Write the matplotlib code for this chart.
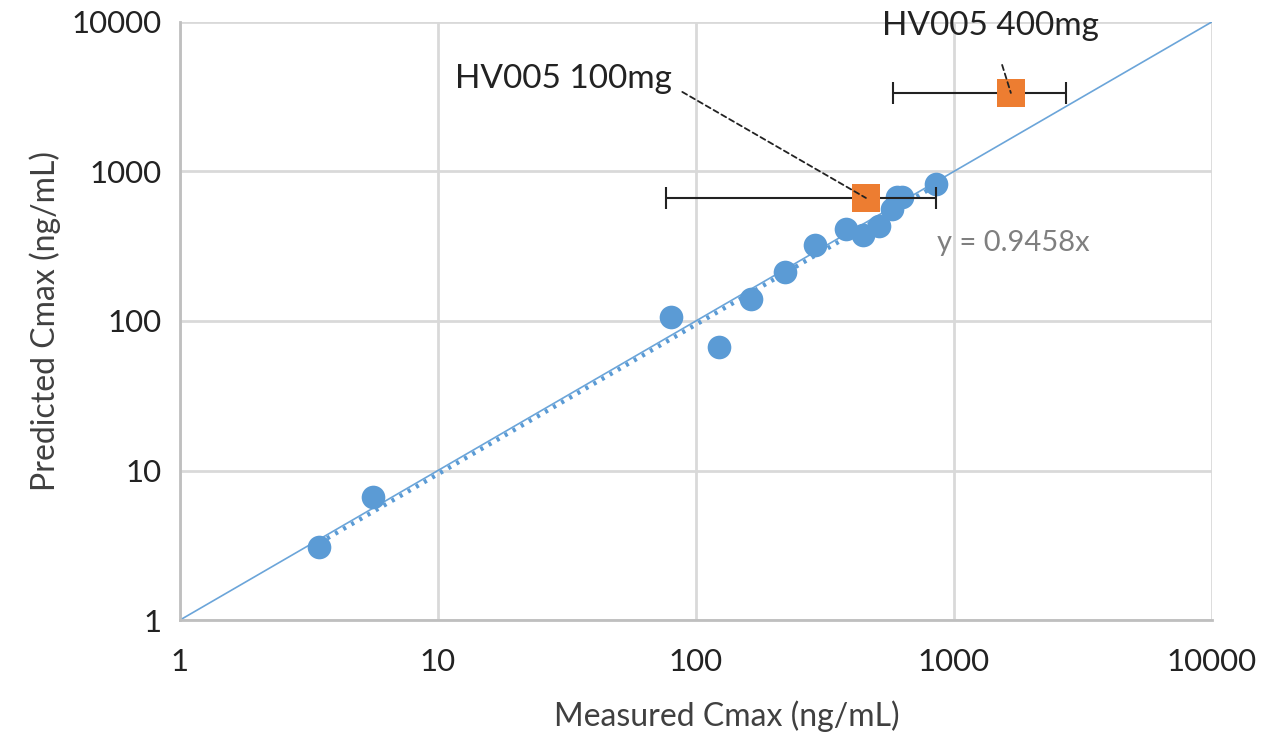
import numpy as np
import matplotlib.pyplot as plt

plt.rcParams['font.family'] = ['Lato', 'DejaVu Sans']

# observed vs predicted Cmax (ng/mL)
measured = [3.46, 5.6, 80, 123, 163, 221, 289, 381, 444, 512, 575, 601, 629, 851]
predicted = [3.08, 6.65, 106, 67, 140, 213, 322, 412, 376, 432, 561, 675, 675, 825]

# HV005 study points with ranges of measured Cmax
hv_labels = ['HV005 100mg', 'HV005 400mg']
hv_measured = [456, 1663]
hv_predicted = [665, 3350]
hv_low = [76.5, 580]
hv_high = [851, 2717]

slope = 0.9458

blue = '#5B9BD5'
orange = '#ED7D31'
grid_c = '#D9D9D9'
txt_c = '#404040'

fig = plt.figure(figsize=(12.63, 7.43), dpi=100)
ax = fig.add_axes([0.1425, 0.1655, 0.817, 0.805])
ax.set_xscale('log')
ax.set_yscale('log')
ax.set_xlim(1, 10000)
ax.set_ylim(1, 10000)

ticks = [1, 10, 100, 1000, 10000]
ax.set_xticks(ticks)
ax.set_yticks(ticks)
ax.set_xticklabels([str(t) for t in ticks])
ax.set_yticklabels([str(t) for t in ticks])
ax.minorticks_off()
ax.tick_params(length=0, labelsize=22.5, labelcolor='#222222')
ax.tick_params(axis='x', pad=20)
ax.tick_params(axis='y', pad=13)
ax.grid(True, color=grid_c, linewidth=2)
ax.set_axisbelow(True)
for s in ['top', 'right']:
    ax.spines[s].set_visible(False)
for s in ['left', 'bottom']:
    ax.spines[s].set_color('#BFBFBF')
    ax.spines[s].set_linewidth(2)

# line of unity
ax.plot([1, 10000], [1, 10000], color=blue, linewidth=1.2, alpha=0.9, zorder=2)

# trend line through origin
xt = np.array([min(measured), max(measured)])
ax.plot(xt, slope * xt, color=blue, linewidth=3.2, linestyle=(0, (0.7, 1.4)), zorder=3)

ax.scatter(measured, predicted, s=290, color=blue, zorder=4, linewidths=0)

hv_x = np.array(hv_measured)
xerr = [hv_x - np.array(hv_low), np.array(hv_high) - hv_x]
ax.errorbar(hv_measured, hv_predicted, xerr=xerr, fmt='none', ecolor='#222222',
            elinewidth=1.5, capsize=8, capthick=1.5, zorder=5)
ax.scatter(hv_measured, hv_predicted, s=430, marker='s', color=orange, zorder=6, linewidths=0)

# labels for HV005 points
ax.annotate(hv_labels[0], xy=(hv_measured[0], hv_predicted[0]), xytext=(81, 4150),
            fontsize=24, color='#222222', ha='right', va='center',
            arrowprops=dict(arrowstyle='-', color='#222222', linestyle=(0, (3, 2)),
                            linewidth=1.3, shrinkA=6, shrinkB=0,
                            connectionstyle='angle,angleA=0,angleB=-30,rad=10'),
            zorder=7)
ax.annotate(hv_labels[1], xy=(hv_measured[1], hv_predicted[1]), xytext=(1380, 9400),
            fontsize=24, color='#222222', ha='center', va='center',
            arrowprops=dict(arrowstyle='-', color='#222222', linestyle=(0, (3, 2)),
                            linewidth=1.3, shrinkA=16, shrinkB=0),
            zorder=7)

ax.text(860, 332, 'y = %.4fx' % slope, fontsize=21, color='#7F7F7F', ha='left', va='center')

ax.set_xlabel('Measured Cmax (ng/mL)', fontsize=23, color=txt_c)
ax.xaxis.set_label_coords(0.53, -0.135)
ax.set_ylabel('Predicted Cmax (ng/mL)', fontsize=23, color=txt_c, labelpad=8)

fig.savefig('out.png', dpi=100)
